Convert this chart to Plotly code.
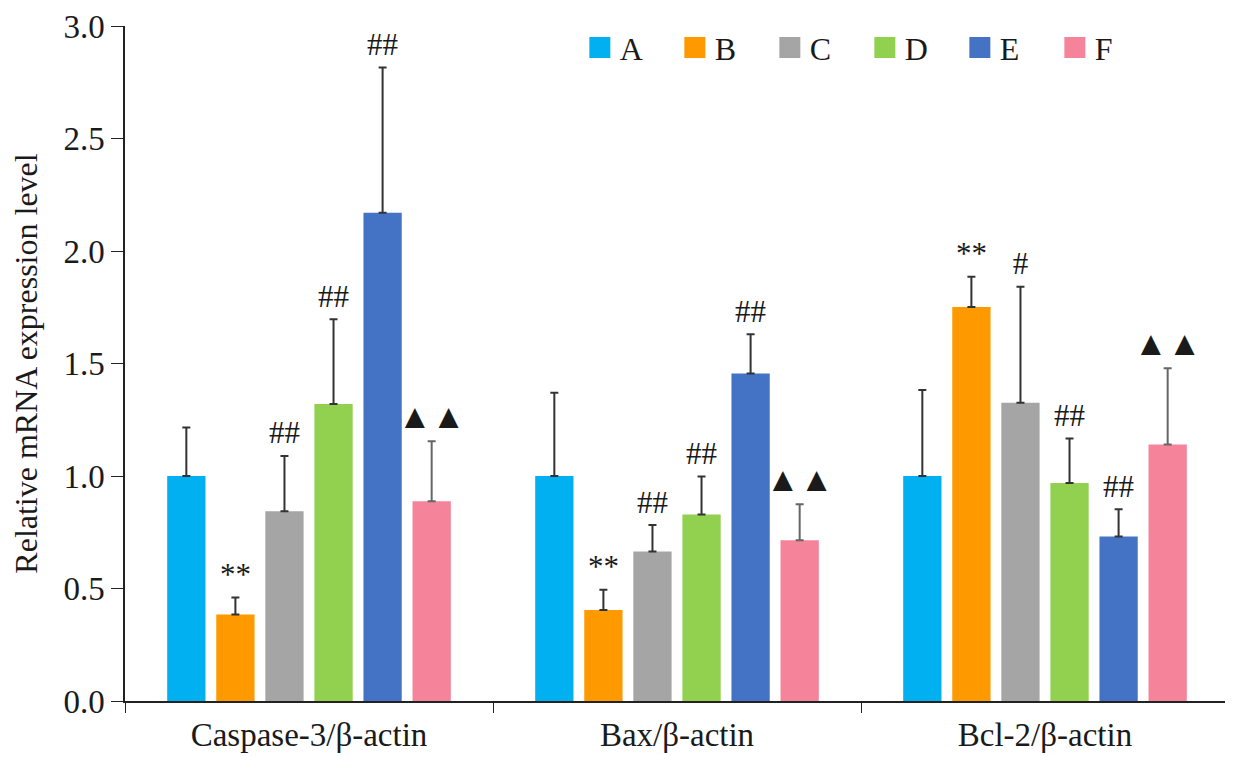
import plotly.graph_objects as go

categories = ["Caspase-3/β-actin", "Bax/β-actin", "Bcl-2/β-actin"]
groups = ["A", "B", "C", "D", "E", "F"]

# mean relative expression per group, one value per category
mean_A = [1.0, 1.0, 1.0]
mean_B = [0.385, 0.405, 1.751]
mean_C = [0.843, 0.665, 1.326]
mean_D = [1.32, 0.829, 0.969]
mean_E = [2.17, 1.456, 0.731]
mean_F = [0.888, 0.715, 1.14]

# standard deviations (upper error bars)
sd_A = [0.216, 0.37, 0.382]
sd_B = [0.075, 0.089, 0.135]
sd_C = [0.246, 0.117, 0.515]
sd_D = [0.377, 0.169, 0.198]
sd_E = [0.646, 0.174, 0.121]
sd_F = [0.267, 0.159, 0.339]

# significance marks above each bar
mark_A = ["", "", ""]
mark_B = ["**", "**", "**"]
mark_C = ["##", "##", "#"]
mark_D = ["##", "##", "##"]
mark_E = ["##", "##", "##"]
mark_F = ["▲▲", "▲▲", "▲▲"]

colors = ["#00b0f0", "#ff9900", "#a5a5a5", "#92d050", "#4472c4", "#f5839a"]
err_colors = ["#333333", "#333333", "#333333", "#333333", "#333333", "#666666"]
mark_sizes = [31, 31, 31, 31, 31, 34]

means = [mean_A, mean_B, mean_C, mean_D, mean_E, mean_F]
sds = [sd_A, sd_B, sd_C, sd_D, sd_E, sd_F]
marks = [mark_A, mark_B, mark_C, mark_D, mark_E, mark_F]

font = "Liberation Serif, Times New Roman, serif"

fig = go.Figure()
for g, m, s, c, ec in zip(groups, means, sds, colors, err_colors):
    fig.add_trace(go.Bar(
        x=categories, y=m, name=g, marker_color=c, marker_line_width=0,
        offsetgroup=g, showlegend=False, hoverinfo="skip",
        error_y=dict(type="data", array=s, arrayminus=[0] * len(s), symmetric=False,
                     color=ec, thickness=2, width=4),
    ))

# text labels, grouped the same way as the bars
for g, m, s, t, fs in zip(groups, means, sds, marks, mark_sizes):
    fig.add_trace(go.Scatter(
        x=categories, y=[a + b for a, b in zip(m, s)], text=t, mode="markers+text",
        textposition="top center", offsetgroup=g, showlegend=False, hoverinfo="skip",
        marker=dict(size=6, opacity=0),
        textfont=dict(family=font, size=fs, color="#1a1a1a"),
    ))

# legend entries with square swatches
for g, c in zip(groups, colors):
    fig.add_trace(go.Scatter(
        x=[None], y=[None], mode="markers", name=g,
        marker=dict(symbol="square", size=16, color=c, line=dict(color=c, width=5)),
    ))

fig.update_layout(
    width=1225, height=749,
    margin=dict(l=117, r=4, t=18, b=52),
    plot_bgcolor="white", paper_bgcolor="white",
    barmode="group", bargap=0.2, bargroupgap=0.22,
    scattermode="group", scattergap=0.2,
    font=dict(family=font, size=32, color="#1a1a1a"),
    legend=dict(orientation="h", x=0.412, y=0.968, xanchor="left", yanchor="middle",
                entrywidth=50, entrywidthmode="pixels", font=dict(size=32),
                bgcolor="rgba(0,0,0,0)"),
    xaxis=dict(showline=True, linecolor="#222222", linewidth=1.5, ticks="outside",
               tickson="boundaries", ticklen=10, tickcolor="#222222", showgrid=False,
               tickfont=dict(size=33), ticklabelstandoff=4),
    yaxis=dict(range=[0, 3], dtick=0.5, tickformat=".1f", showline=True,
               linecolor="#222222", linewidth=1.5, ticks="outside", ticklen=12,
               tickcolor="#222222", showgrid=False, zeroline=False,
               ticklabeloverflow="allow", automargin=False,
               title=dict(text="Relative mRNA expression level", standoff=18,
                          font=dict(size=32)),
               tickfont=dict(size=33)),
)

fig.write_html("out.html")
